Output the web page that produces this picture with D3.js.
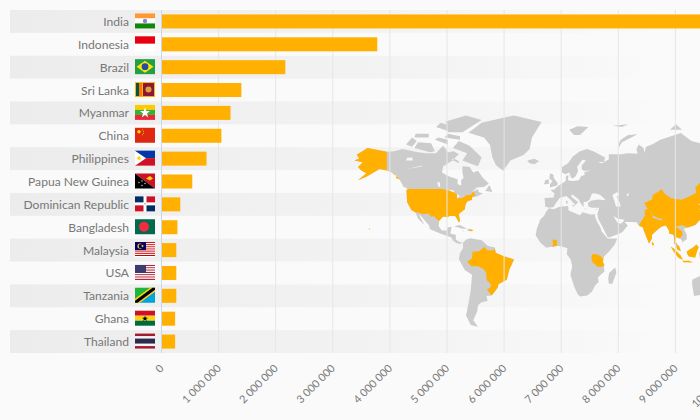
<!DOCTYPE html>
<html><head><meta charset="utf-8">
<script src="https://cdn.jsdelivr.net/npm/d3@7/dist/d3.min.js"></script>
<style>html,body{margin:0;padding:0;background:#fafafa}svg{display:block}text{font-family:Lato,sans-serif}</style>
</head><body><svg id="c" width="700" height="420"></svg>
<script>
const categories=["India","Indonesia","Brazil","Sri Lanka","Myanmar","China","Philippines","Papua New Guinea","Dominican Republic","Bangladesh","Malaysia","USA","Tanzania","Ghana","Thailand"];
const seriesValues=[10800000,3770000,2160000,1390000,1200000,1040000,780000,530000,320000,270000,250000,250000,250000,230000,230000];
const tickValues=[0,1000000,2000000,3000000,4000000,5000000,6000000,7000000,8000000,9000000,10000000];
const tickLabels=["0","1 000 000","2 000 000","3 000 000","4 000 000","5 000 000","6 000 000","7 000 000","8 000 000","9 000 000","10 000 000"];

const greyLand=[
[[-168,65.5],[-164,66.5],[-166,68.3],[-157,71.5],[-141,69.7],[-135,70],[-128,71],[-115,69.5],[-108,69],[-100,69],[-96,71.5],[-94,72.5],[-90,69.5],[-85,70],[-81,68.5],[-87,65],[-94,62.5],[-95,59],[-90,57],[-82,55],[-82,52],[-79,51.2],[-79,54.5],[-77,56],[-78,59],[-78,62.5],[-72,62],[-69,59],[-65,60],[-61,56],[-56,52.5],[-60,50.2],[-66,50],[-70,47],[-65,49],[-64.5,47],[-61,46],[-66,44],[-70,43.5],[-70,41.7],[-74,40.5],[-75.5,38],[-76,35],[-81,31.5],[-80,26],[-81,25],[-82.7,28],[-84,30],[-89,30],[-90,29],[-94,29.5],[-97.3,27],[-97.8,22],[-95,18.5],[-91,18.5],[-90.5,21],[-87,21.5],[-88,16],[-83.5,15],[-83.5,11],[-80,9],[-77.5,8.5],[-80,7.5],[-83,8.3],[-85.5,10],[-87.5,13],[-92,14.5],[-96,16],[-105,19.5],[-106,23],[-109,26],[-112.5,30],[-114.5,31.5],[-112,27],[-109.7,23],[-112,25],[-115,28],[-117,32.5],[-120.5,34.5],[-124,40],[-124.5,48],[-122.5,48],[-127,50.5],[-130,54.5],[-134,58],[-140,60],[-147,61],[-152,59],[-158,56.5],[-165,54.5],[-158,58.5],[-162,60],[-165,62],[-161,64.5]],
[[-73,77.8],[-62,81.5],[-35,84],[-12,81.8],[-20,76],[-22,71],[-27,68.2],[-38,65.5],[-44,60],[-50,63],[-53,67],[-55,72.8],[-60,76]],
[[-81,74.5],[-72,72.5],[-62,67],[-65,62.5],[-72,64],[-78,65.5],[-74,69],[-86,71.5]],
[[-118,71.5],[-105,69.5],[-101,70],[-104,73.5],[-115,74]],
[[-125,73],[-120,72],[-116,74.5],[-120,76]],
[[-90,78],[-78,78],[-62,82.5],[-75,84],[-92,82]],
[[-93,76],[-80,75],[-80,76.5],[-90,77.5]],
[[-118,76],[-106,76],[-106,77.5],[-117,77.5]],
[[-101,75],[-90,73],[-90,75],[-98,76]],
[[-100,80],[-90,78.5],[-88,80.5],[-96,81.5]],
[[-87,66],[-81,64],[-81,65],[-85,66.5]],
[[-59,47.7],[-53,47],[-55.5,51.5]],
[[-128,50.7],[-123.5,48.5],[-125,50]],
[[-85,22],[-80,23],[-74.2,20],[-78,20]],
[[-74.3,18.5],[-71.6,18],[-71.7,19.8],[-73,20]],
[[-78.3,18.4],[-76.3,18.1],[-77,17.8]],
[[-77.5,8.5],[-75,11],[-71.5,12.3],[-62,10.5],[-57,6],[-51,4.5],[-50,0],[-44,-2.5],[-35,-5.5],[-39,-14],[-41,-22],[-48,-25.5],[-48.5,-28],[-53.5,-34],[-58,-34.5],[-57,-38],[-62,-39],[-65,-41],[-65.5,-45],[-69,-51],[-65,-55],[-71,-54],[-75,-48],[-73,-40],[-71,-30],[-70,-18],[-76,-14],[-81,-5],[-80,0],[-77.5,4]],
[[-5.9,35.8],[-2,35],[3,36.8],[10,37.3],[10.5,34],[15,32.3],[20,30.5],[22,32.8],[29,31],[32.5,31.2],[32.5,29.5],[34,26],[37,21],[38,18],[43,12],[51,12],[49,7],[44,1],[40,-3],[39,-7],[40.5,-15],[35,-20],[35.5,-24],[32.8,-26],[30,-31],[26,-34],[20,-34.8],[18,-33],[15,-27],[12,-18],[13.5,-11],[12,-5],[9,-1],[9.5,4],[5,5.5],[1,6],[-4,5.2],[-8,4.4],[-13,8.5],[-17,14.7],[-16,20],[-13,27.5],[-10,30],[-8,33.5]],
[[49.3,-12],[50.4,-16],[47,-25],[44,-25],[43.5,-21],[44.3,-16.5]],
[[-9,37],[-9.5,43],[-2,43.4],[-1.2,46],[-4.7,48.4],[-1.5,48.7],[2,51],[4,52],[8,54],[8.3,57],[10.5,57.5],[10,54.5],[14,54],[19,54.5],[21,57],[24,57.5],[23.5,59.3],[29,60],[23,60],[21.3,61],[21.5,63],[25,65.5],[22,65.8],[17.5,62],[18.5,60],[16.5,57],[14,55.5],[12.5,56],[11,59],[8,58],[5,59],[5,62],[10,64],[14,67.5],[20,70],[26,71],[31,70],[41,67],[40,64.8],[35,64.5],[38,64],[44,66],[44,68.5],[54,68.5],[60,69],[68,68.8],[67,71],[69,73],[73,71.5],[74,68],[72,66],[75,72],[80,73],[87,75],[104,77.7],[113,74.5],[128,72.5],[140,72.5],[160,69.7],[170,70],[180,69],[180,65],[177,62.5],[170,60],[163,59.8],[162,56],[156.7,51],[155.5,57],[163,62],[155,59.5],[143,59.3],[135,54.5],[141,53],[140,48],[135,43.5],[130.5,42.5],[128,40],[129.5,36],[126.5,34.5],[126,37],[125,39.8],[121.5,39],[118,39],[122,37],[119.5,35],[122,31],[121,28],[116,23],[110,21],[106.5,20],[109,15],[109,11.5],[105,8.7],[105,10.5],[100.5,13.5],[99.5,10],[103.5,4],[104,1.4],[101,3],[98.5,8],[98,15],[94.5,16],[94,19],[91.5,22.5],[88,21.7],[85,19.5],[80,15],[80,12],[77.5,8],[73,19],[72.5,21],[69,22.5],[67,25],[57,25.5],[56.5,27],[51,28],[48,30],[50,26.5],[51.5,24.5],[54,24],[56.5,26],[59.8,22.5],[55,17],[45,13],[43,13],[39,21],[35,28],[34.5,31.5],[36,36],[30,36],[27,37],[26.5,39.5],[29,41],[35,42],[41.5,41.5],[37,45],[33,46],[30,46],[28,42],[26,40.5],[23,40],[23,36.5],[20,40],[19,42],[13.5,45.5],[12.5,44],[18.5,40],[16,38],[12,42],[8.5,44.3],[3,43],[0,39.5],[-2,36.7],[-5.5,36]],
[[-5,50],[1,51.2],[1.5,52.7],[-2,56],[-2,57.7],[-5,58.5],[-5.5,55.5],[-3,54],[-5,52]],
[[-10,52],[-6,52.2],[-6,55],[-9,54.5]],
[[-24,65.5],[-18,66.3],[-14,65],[-18,63.5],[-22,64]],
[[11,79],[18,80.3],[27,80],[20,77],[15,77]],
[[47,80.5],[60,81],[55,80]],
[[52,71.5],[55,74],[68,77.3],[60,77],[54,75],[52,73]],
[[95,79],[105,79],[100,81]],
[[13,38],[15.5,38],[15,36.8]],[[8.3,41],[9.7,41],[9.5,39],[8.5,39]],[[23.5,35.5],[26,35.2],[24,35]],[[32.5,35],[34.5,35.5],[33.5,34.7]],
[[113.5,-22],[122,-18],[130,-12],[136,-12],[140,-17],[142,-11],[146,-19],[153,-26],[150,-37],[144,-38.5],[138,-35],[131,-31.5],[124,-33],[115,-34.5],[113.5,-26]]
];
const lakes=[
[[-92,46.7],[-85,46.5],[-85,48],[-89,48.5]],[[-87.8,42],[-86.3,42],[-85,45.7],[-87.5,45]],[[-84,46],[-80,44.5],[-82,43],[-83.5,44]],[[-83,41.6],[-79,42.7],[-80,42.7]],[[-79.5,43.3],[-76.5,43.5],[-76.5,44]],
[[-98,50.5],[-96.5,50.5],[-97,53.5],[-99,53]],[[-124,61],[-112,62.3],[-111,62.8],[-117,62]],[[-125,65.5],[-119,65.5],[-120,67],[-124,66.8]],
[[47,45],[51,47],[53,45],[50.5,44],[53,40],[54,37],[50,37],[49,40]],[[58.5,45],[61,46.5],[60,44]]
];
const orangeLand=[
[[-168,65.5],[-164,66.5],[-166,68.3],[-157,71.5],[-141,69.7],[-141,60],[-137,59],[-130,55],[-133,55.5],[-134,58],[-140,60],[-147,61],[-152,59],[-158,56.5],[-165,54.5],[-158,58.5],[-162,60],[-165,62],[-161,64.5]],
[[-124.7,48.4],[-123,49],[-95,49],[-89,48],[-84.5,46.5],[-82.5,45.3],[-82.5,42.5],[-79,43],[-76,44],[-74.7,45],[-71,45],[-69,47.3],[-67,45],[-70,43.5],[-70,41.7],[-74,40.5],[-75.5,38],[-76,35],[-81,31.5],[-80,26],[-81,25],[-82.7,28],[-84,30],[-89,30],[-90,29],[-94,29.5],[-97.3,26],[-99.5,27.5],[-101.5,29.8],[-104,29.5],[-106.5,31.8],[-111,31.3],[-114.8,32.5],[-117,32.5],[-120.5,34.5],[-124,40]],
[[-156,20.3],[-155,19.7],[-155.8,19]],
[[-51.5,4.2],[-50,0],[-44,-2.5],[-35,-5.5],[-39,-14],[-41,-22],[-48,-25.5],[-48.5,-28],[-53.5,-33.8],[-57.5,-30],[-54,-27],[-54.5,-25],[-58,-22],[-58,-17],[-60,-13.5],[-65,-11],[-70.5,-11],[-74,-7.5],[-70,-4.3],[-69.5,1],[-64,1.5],[-60,5],[-57,2],[-52,2.2]],
[[-71.7,19.8],[-68.5,18.7],[-71.5,17.8]],
[[-3,5],[1,6],[0.5,11],[-3,11],[-2.5,8]],
[[30,-1],[34,-1],[37.5,-3],[39.5,-5],[39,-7],[40.5,-10.5],[37,-11.7],[34.5,-11.5],[32.5,-9.3],[30.5,-8],[29.5,-4.5]],
[[73.6,39.5],[80,42],[80.5,45],[85,47],[88,49],[91,45.5],[96,42.8],[105,41.8],[111,44],[117,46.5],[116,49.8],[120,53],[125,53],[131,47.5],[135,48.3],[131,43],[128,42],[124.5,40],[121.5,39],[118,39],[122,37],[119.5,35],[122,31],[121,28],[116,23],[110,21],[108,21.5],[105,23],[102,22],[99,22],[98,25],[98.5,28],[92,28],[86,28],[81,30.3],[79,33],[75,37]],
[[74,34.5],[77,35.5],[79,32.5],[81,30],[80,28.7],[88,26.3],[88.5,28],[92,27.8],[97,28.3],[95,24],[92.5,22.5],[91.5,22.5],[88,21.7],[85,19.5],[80,15],[80,12],[77.5,8],[73,19],[72.5,21],[69,22.5],[70.5,25],[74,30]],
[[97,28.3],[98.5,28],[98,25],[99,22],[101,21],[100,20],[97.5,18],[98.5,12],[98,15],[94.5,16],[94,19],[91.5,22.5]],
[[100,20],[101,21],[105,18],[105.5,14.5],[102.5,12],[100.5,13.5],[99.5,10],[101,6.5],[98.5,8],[98.5,12],[97.5,18]],
[[100.5,6.5],[102.5,6],[104,1.4],[101,3]],
[[80,9.5],[82,7],[80.5,6],[79.8,8]],
[[95.5,5.5],[98,4],[104,-2],[106,-6],[102,-4],[98,1]],
[[105.5,-6.5],[111,-6.5],[114.5,-8],[106,-7.6]],
[[109,1.5],[114,4.5],[117,7],[119,5],[117.5,1],[116,-4],[110.5,-3],[109,0]],
[[119.5,0.5],[125,1.5],[121,-1],[123,-5],[120,-5.5]]
];

const svg=d3.select("#c");
const defs=svg.append("defs");
const grad=defs.append("linearGradient").attr("id","band").attr("gradientUnits","userSpaceOnUse").attr("x1",10).attr("x2",700).attr("y1",0).attr("y2",0);
grad.append("stop").attr("offset",0).attr("stop-color","#ececec");
grad.append("stop").attr("offset",0.5).attr("stop-color","#f2f2f2");
grad.append("stop").attr("offset",0.97).attr("stop-color","#fafafa");

const x=d3.scaleLinear().domain([0,10000000]).range([161.5,732.5]);
const y=d3.scaleBand().domain(categories).range([10,353]).paddingInner(0).paddingOuter(0);

svg.selectAll(".band").data(categories.filter((d,i)=>i%2==0)).join("rect").attr("x",10).attr("width",690)
 .attr("y",d=>y(d)).attr("height",y.bandwidth()).attr("fill","url(#band)");

const lonS=d3.scaleLinear().domain([0,100]).range([556,676]);
const k=120/100*180/Math.PI;
const proj=d3.geoTransform({point(lon,lat){const r=lat*Math.PI/180;this.stream.point(lonS(lon),253-k*1.25*Math.log(Math.tan(Math.PI/4+0.4*r)));}});
const path=d3.geoPath(proj);
const mp=(list)=>({type:"MultiPolygon",coordinates:list.map(p=>[p.concat([p[0]])])});
svg.append("path").datum(mp(greyLand)).attr("d",path).attr("fill","#cccccc");
svg.append("path").datum(mp(lakes)).attr("d",path).attr("fill","#f8f8f8");
svg.append("path").datum(mp(orangeLand)).attr("d",path).attr("fill","#ffb000");

svg.selectAll(".grid").data(tickValues.slice(1)).join("line").attr("x1",d=>x(d)).attr("x2",d=>x(d)).attr("y1",10).attr("y2",353).attr("stroke","#e6e6e6");
svg.append("line").attr("x1",161.5).attr("x2",161.5).attr("y1",10).attr("y2",353).attr("stroke","#ccd6eb");

svg.selectAll(".bar").data(categories).join("rect").attr("x",x(0)+0.5).attr("y",d=>y(d)+y.bandwidth()/2-7).attr("height",14)
 .attr("width",(d,i)=>x(seriesValues[i])-x(0)).attr("fill","#ffb000");

svg.selectAll(".lab").data(categories).join("text").attr("x",129).attr("y",d=>y(d)+y.bandwidth()/2+4.5).attr("text-anchor","end")
 .attr("font-size",12.1).attr("fill","#777").text(d=>d);

svg.selectAll(".tick").data(tickValues).join("text").attr("text-anchor","end").attr("font-size",10.8).attr("fill","#777")
 .attr("transform",d=>`translate(${x(d)+3},${369}) rotate(-45)`).text((d,i)=>tickLabels[i]);

const flag={
"India":(g)=>{st(g,["#ff9933","#ffffff","#138808"]);circ(g,10,7.5,2.2,"#8888cc");},
"Indonesia":(g)=>st(g,["#e70011","#ffffff"]),
"Brazil":(g)=>{g.append("rect").attr("width",20).attr("height",15).attr("fill","#229e45");g.append("polygon").attr("points","10,1.5 18.5,7.5 10,13.5 1.5,7.5").attr("fill","#f8e509");circ(g,10,7.5,3.4,"#2b49a3");},
"Sri Lanka":(g)=>{g.append("rect").attr("width",20).attr("height",15).attr("fill","#f7b718");g.append("rect").attr("x",1).attr("y",1).attr("width",3).attr("height",13).attr("fill","#005641");g.append("rect").attr("x",4).attr("y",1).attr("width",3).attr("height",13).attr("fill","#ff7300");g.append("rect").attr("x",8).attr("y",1).attr("width",11).attr("height",13).attr("fill","#8d153a");circ(g,13.5,7.5,3,"#d9a33a");},
"Myanmar":(g)=>{st(g,["#fecb00","#34b233","#ea2839"]);g.append("polygon").attr("points","10,2.5 11.3,6.2 15,6.2 12,8.6 13.2,12.5 10,10.2 6.8,12.5 8,8.6 5,6.2 8.7,6.2").attr("fill","#fff");},
"China":(g)=>{g.append("rect").attr("width",20).attr("height",15).attr("fill","#de2910");circ(g,4,4,1.7,"#ffde00");[[7.5,2],[8.5,3.5],[8.5,5.5],[7.5,7]].forEach(p=>circ(g,p[0],p[1],.5,"#ffde00"));},
"Philippines":(g)=>{g.append("rect").attr("width",20).attr("height",7.5).attr("fill","#0038a8");g.append("rect").attr("y",7.5).attr("width",20).attr("height",7.5).attr("fill","#ce1126");g.append("polygon").attr("points","0,0 11,7.5 0,15").attr("fill","#fff");circ(g,4,7.5,1.8,"#fcd116");},
"Papua New Guinea":(g)=>{g.append("polygon").attr("points","0,0 20,0 20,15").attr("fill","#ce1126");g.append("polygon").attr("points","0,0 0,15 20,15").attr("fill","#000");g.append("polygon").attr("points","11,5 15,2.5 18,5 15,7").attr("fill","#fcd116");[[4,9],[7,7.5],[7,12],[10,10]].forEach(p=>circ(g,p[0],p[1],.7,"#ddd"));},
"Dominican Republic":(g)=>{g.append("rect").attr("width",20).attr("height",15).attr("fill","#fff");[[0,0,"#002d62"],[11.5,0,"#ce1126"],[0,9,"#ce1126"],[11.5,9,"#002d62"]].forEach(p=>g.append("rect").attr("x",p[0]).attr("y",p[1]).attr("width",8.5).attr("height",6).attr("fill",p[2]));circ(g,10,7.5,1,"#b9c6b5");},
"Bangladesh":(g)=>{g.append("rect").attr("width",20).attr("height",15).attr("fill","#006a4e");circ(g,9,7.5,5,"#f42a41");},
"Malaysia":(g)=>{stripes(g,["#cc0001","#fff"],14);g.append("rect").attr("width",11).attr("height",8).attr("fill","#010066");circ(g,5,4,2.6,"#ffcc00");circ(g,5.8,4,2.2,"#010066");circ(g,7.5,4,1,"#ffcc00");},
"USA":(g)=>{stripes(g,["#b22234","#fff"],13);g.append("rect").attr("width",11).attr("height",8).attr("fill","#3c3b6e");},
"Tanzania":(g)=>{g.append("polygon").attr("points","0,0 20,0 0,15").attr("fill","#1eb53a");g.append("polygon").attr("points","20,0 20,15 0,15").attr("fill","#00a3dd");g.append("polygon").attr("points","0,11 15,0 20,0 20,4 5,15 0,15").attr("fill","#fcd116");g.append("polygon").attr("points","0,13 17.5,0 20,0 20,2 2.5,15 0,15").attr("fill","#000");},
"Ghana":(g)=>{st(g,["#ce1126","#fcd116","#006b3f"]);g.append("polygon").attr("points","10,5 10.8,7 13,7 11.2,8.4 11.8,10.2 10,9 8.2,10.2 8.8,8.4 7,7 9.2,7").attr("fill","#000");},
"Thailand":(g)=>{[[0,15,"#a51931"],[2.5,10,"#f4f5f8"],[5,5,"#2d2a4a"]].forEach(p=>g.append("rect").attr("y",p[0]).attr("width",20).attr("height",p[1]).attr("fill",p[2]));}
};
function st(g,c){c.forEach((f,i)=>g.append("rect").attr("y",i*15/c.length).attr("width",20).attr("height",15/c.length).attr("fill",f));}
function stripes(g,c,n){for(let i=0;i<n;i++)g.append("rect").attr("y",i*15/n).attr("width",20).attr("height",15/n).attr("fill",c[i%2]);}
function circ(g,a,b,r,f){g.append("circle").attr("cx",a).attr("cy",b).attr("r",r).attr("fill",f);}
categories.forEach(c=>{const g=svg.append("g").attr("transform",`translate(135,${y(c)+y.bandwidth()/2-8})`);flag[c](g);});
</script></body></html>
